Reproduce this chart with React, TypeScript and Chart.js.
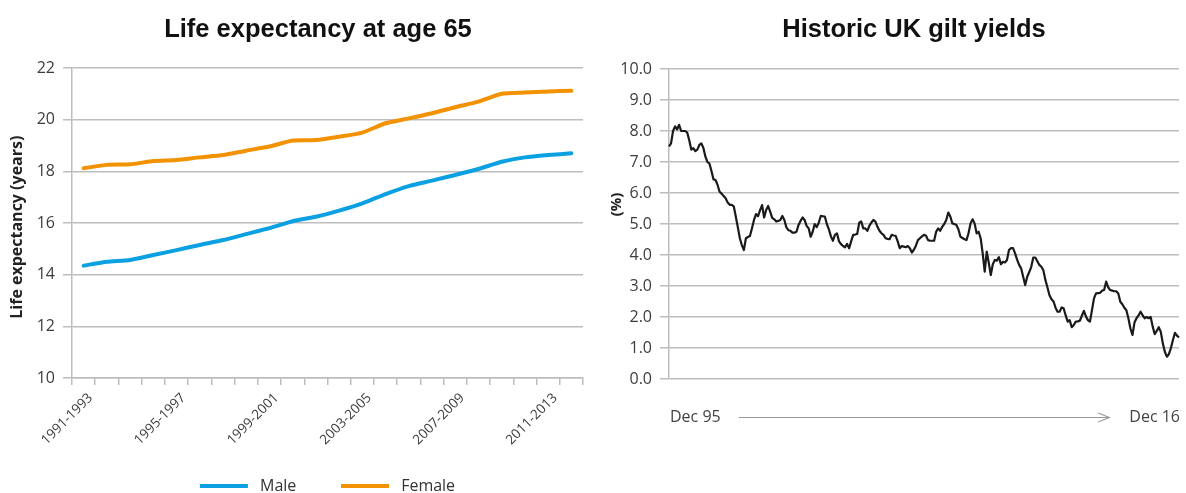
import React, { useEffect, useRef } from 'react';
import { Chart, registerables } from 'chart.js';

Chart.register(...registerables);

// ---------- Left chart data ----------
const lifePeriods = [
  '1991-1993', '1992-1994', '1993-1995', '1994-1996', '1995-1997', '1996-1998',
  '1997-1999', '1998-2000', '1999-2001', '2000-2002', '2001-2003', '2002-2004',
  '2003-2005', '2004-2006', '2005-2007', '2006-2008', '2007-2009', '2008-2010',
  '2009-2011', '2010-2012', '2011-2013', '2012-2014',
];
const maleLifeExp = [
  14.35, 14.5, 14.57, 14.76, 14.95, 15.15, 15.34, 15.57, 15.8, 16.07, 16.24,
  16.48, 16.76, 17.12, 17.43, 17.64, 17.86, 18.09, 18.37, 18.54, 18.63, 18.7,
];
const femaleLifeExp = [
  18.12, 18.25, 18.27, 18.4, 18.44, 18.54, 18.63, 18.8, 18.96, 19.19, 19.21,
  19.34, 19.5, 19.86, 20.05, 20.25, 20.48, 20.7, 21.0, 21.05, 21.09, 21.12,
];
const lifeYMin = 10;
const lifeYMax = 22;
const lifeYStep = 2;

// ---------- Right chart data (monthly, Dec 95 .. Dec 16) ----------
const giltYields = [
  7.5, 7.6, 8.0, 8.15, 8.05, 8.2, 8.0, 8.0, 8.0, 7.95, 7.7, 7.4,
  7.45, 7.35, 7.4, 7.55, 7.6, 7.45, 7.17, 7.0, 6.95, 6.7, 6.44, 6.42,
  6.26, 6.04, 5.98, 5.9, 5.83, 5.69, 5.62, 5.62, 5.57, 5.24, 4.9, 4.54,
  4.32, 4.16, 4.54, 4.58, 4.61, 4.86, 5.13, 5.32, 5.25, 5.45, 5.61, 5.21,
  5.45, 5.58, 5.4, 5.2, 5.15, 5.08, 5.1, 5.13, 5.26, 5.13, 4.89, 4.8,
  4.78, 4.72, 4.72, 4.75, 4.97, 5.1, 5.21, 5.13, 4.94, 4.86, 4.59, 4.75,
  5.0, 4.9, 5.04, 5.26, 5.25, 5.24, 5.0, 4.83, 4.6, 4.46, 4.65, 4.7,
  4.44, 4.35, 4.29, 4.25, 4.36, 4.22, 4.44, 4.65, 4.66, 4.68, 5.04, 5.08,
  4.86, 4.86, 4.78, 4.94, 5.05, 5.13, 5.08, 4.91, 4.78, 4.7, 4.65, 4.54,
  4.52, 4.51, 4.65, 4.63, 4.62, 4.44, 4.22, 4.29, 4.27, 4.25, 4.29, 4.22,
  4.08, 4.17, 4.3, 4.48, 4.54, 4.6, 4.65, 4.62, 4.48, 4.46, 4.46, 4.46,
  4.75, 4.86, 4.78, 4.91, 5.0, 5.13, 5.37, 5.24, 5.02, 5.0, 4.97, 4.83,
  4.59, 4.55, 4.51, 4.48, 4.7, 5.02, 5.15, 5.02, 4.7, 4.75, 4.54, 4.05,
  3.46, 4.11, 3.75, 3.35, 3.7, 3.84, 3.82, 3.93, 3.7, 3.78, 3.76, 3.84,
  4.16, 4.22, 4.22, 4.05, 3.85, 3.68, 3.57, 3.3, 3.03, 3.3, 3.45, 3.62,
  3.92, 3.92, 3.8, 3.68, 3.62, 3.5, 3.19, 2.95, 2.7, 2.57, 2.5, 2.3,
  2.17, 2.17, 2.31, 2.28, 2.05, 1.85, 1.9, 1.67, 1.74, 1.85, 1.86, 1.88,
  2.04, 2.2, 2.02, 1.9, 1.85, 2.22, 2.6, 2.76, 2.77, 2.78, 2.85, 2.87,
  3.14, 2.96, 2.87, 2.85, 2.83, 2.83, 2.76, 2.49, 2.41, 2.3, 2.22, 1.96,
  1.63, 1.42, 1.82, 1.96, 2.05, 2.17, 2.06, 1.96, 2.0, 1.96, 2.0, 1.69,
  1.45, 1.55, 1.67, 1.52, 1.15, 0.88, 0.72, 0.8, 1.0, 1.26, 1.49, 1.4,
  1.34,
];
const monthNames = ['Jan', 'Feb', 'Mar', 'Apr', 'May', 'Jun', 'Jul', 'Aug', 'Sep', 'Oct', 'Nov', 'Dec'];
const giltMonths = giltYields.map((_, i) => {
  const m = 11 + i;
  const yr = (1995 + Math.floor(m / 12)) % 100;
  return monthNames[m % 12] + ' ' + String(yr).padStart(2, '0');
});
const giltStartLabel = 'Dec 95';
const giltEndLabel = 'Dec 16';
const giltYMin = 0;
const giltYMax = 10;
const giltYStep = 1;

// ---------- styles ----------
const FONT = '"Open Sans", "DejaVu Sans", sans-serif';
const GRID = '#bdbdbd';
const TICK = '#3c3c3c';
const BLUE = '#0aa0e2';
const ORANGE = '#f39200';

const giltAxisNote = {
  id: 'giltAxisNote',
  afterDraw(chart: any) {
    const { ctx, chartArea } = chart;
    const y = chartArea.bottom + 38;
    ctx.save();
    ctx.font = '16px ' + FONT;
    ctx.fillStyle = '#444444';
    ctx.textBaseline = 'middle';
    ctx.textAlign = 'left';
    const xs = chartArea.left + 1;
    ctx.fillText(giltStartLabel, xs, y);
    const w1 = ctx.measureText(giltStartLabel).width;
    ctx.textAlign = 'right';
    const xe = chartArea.right + 1;
    ctx.fillText(giltEndLabel, xe, y);
    const w2 = ctx.measureText(giltEndLabel).width;
    const x0 = xs + w1 + 18;
    const x1 = xe - w2 - 20;
    ctx.strokeStyle = '#9a9a9a';
    ctx.lineWidth = 1.2;
    ctx.beginPath();
    ctx.moveTo(x0, y + 0.5);
    ctx.lineTo(x1, y + 0.5);
    ctx.moveTo(x1 - 11, y - 4);
    ctx.lineTo(x1, y + 0.5);
    ctx.lineTo(x1 - 11, y + 5);
    ctx.stroke();
    ctx.restore();
  },
};

function LifeChart() {
  const ref = useRef<HTMLCanvasElement>(null);
  useEffect(() => {
    if (!ref.current) return;
    const chart = new Chart(ref.current, {
      type: 'line',
      data: {
        labels: lifePeriods,
        datasets: [
          {
            label: 'Male',
            data: maleLifeExp,
            borderColor: BLUE,
            backgroundColor: BLUE,
            borderWidth: 4,
            pointRadius: 0,
            borderCapStyle: 'round',
            borderJoinStyle: 'round',
            tension: 0.2,
          },
          {
            label: 'Female',
            data: femaleLifeExp,
            borderColor: ORANGE,
            backgroundColor: ORANGE,
            borderWidth: 4,
            pointRadius: 0,
            borderCapStyle: 'round',
            borderJoinStyle: 'round',
            tension: 0.2,
          },
        ],
      },
      options: {
        animation: false,
        responsive: false,
        layout: { padding: { left: 0, right: 12, top: 68, bottom: 0 } },
        plugins: {
          title: { display: false },
          tooltip: { enabled: false },
          legend: {
            position: 'bottom',
            fullSize: false,
            labels: {
              boxWidth: 48,
              boxHeight: 4,
              padding: 28,
              color: '#333333',
              font: { family: FONT, size: 16 },
              generateLabels: (c: any) =>
                (Chart.defaults.plugins.legend.labels as any)
                  .generateLabels(c)
                  .map((l: any, i: number) => ({
                    ...l,
                    lineWidth: 0,
                    text: ' ' + l.text + (i === 0 ? '    ' : ''),
                  })),
            },
          },
        },
        scales: {
          x: {
            offset: true,
            grid: {
              offset: true,
              drawOnChartArea: false,
              drawTicks: true,
              tickLength: 7,
              color: GRID,
              lineWidth: 1.5,
            },
            border: { color: GRID, width: 1.5 },
            ticks: {
              autoSkip: false,
              minRotation: 45,
              maxRotation: 45,
              padding: 5,
              labelOffset: 7,
              color: TICK,
              font: { family: FONT, size: 13.5 },
              callback: (_v: any, i: number) => (i % 4 === 0 ? lifePeriods[i] : ''),
            },
            afterFit: (s: any) => {
              s.height = 72;
            },
          },
          y: {
            min: lifeYMin,
            max: lifeYMax,
            ticks: {
              stepSize: lifeYStep,
              padding: 8,
              color: TICK,
              font: { family: FONT, size: 16 },
            },
            grid: { color: GRID, lineWidth: 1.5, tickLength: 9 },
            border: { color: GRID, width: 1.5 },
            title: {
              display: true,
              text: 'Life expectancy (years)  ',
              color: '#222222',
              font: { family: FONT, size: 16, weight: 'bold' },
              padding: { top: 8, bottom: 0 },
            },
            afterFit: (s: any) => {
              s.width = 72;
            },
          },
        },
      } as any,
    });
    return () => chart.destroy();
  }, []);
  return (
    <canvas
      ref={ref}
      width={595}
      height={504}
      style={{ position: 'absolute', left: 0, top: 0, display: 'block' }}
    />
  );
}

function GiltChart() {
  const ref = useRef<HTMLCanvasElement>(null);
  useEffect(() => {
    if (!ref.current) return;
    const chart = new Chart(ref.current, {
      type: 'line',
      data: {
        labels: giltMonths,
        datasets: [
          {
            label: 'UK gilt yield',
            data: giltYields,
            borderColor: '#1a1a1a',
            backgroundColor: '#1a1a1a',
            borderWidth: 2.2,
            pointRadius: 0,
            tension: 0,
            borderJoinStyle: 'round',
          },
        ],
      },
      options: {
        animation: false,
        responsive: false,
        layout: { padding: { left: 0, right: 7, top: 69, bottom: 114 } },
        plugins: {
          title: { display: false },
          legend: { display: false },
          tooltip: { enabled: false },
        },
        scales: {
          x: { display: false },
          y: {
            min: giltYMin,
            max: giltYMax,
            ticks: {
              stepSize: giltYStep,
              padding: 8,
              color: TICK,
              font: { family: FONT, size: 16 },
              callback: (v: any) => Number(v).toFixed(1),
            },
            grid: { color: GRID, lineWidth: 1.5, tickLength: 9 },
            border: { color: GRID, width: 1.5 },
            title: {
              display: true,
              text: '          (%)',
              color: '#222222',
              font: { family: FONT, size: 15, weight: 'bold' },
              padding: { top: 13, bottom: 0 },
            },
            afterFit: (s: any) => {
              s.width = 74;
            },
          },
        },
      } as any,
      plugins: [giltAxisNote],
    });
    return () => chart.destroy();
  }, []);
  return (
    <canvas
      ref={ref}
      width={591}
      height={493}
      style={{ position: 'absolute', left: 595, top: 0, display: 'block' }}
    />
  );
}

const titleStyle: React.CSSProperties = {
  position: 'absolute',
  top: 14,
  height: 28,
  lineHeight: '28px',
  textAlign: 'center',
  fontFamily: '"Liberation Sans", Arial, sans-serif',
  fontWeight: 'bold',
  fontSize: 25.5,
  color: '#111111',
  whiteSpace: 'nowrap',
};

export default function App() {
  return (
    <div
      style={{
        position: 'fixed',
        left: 0,
        top: 0,
        width: 1186,
        height: 493,
        overflow: 'hidden',
        background: '#ffffff',
      }}
    >
      <LifeChart />
      <GiltChart />
      <div style={{ ...titleStyle, left: 18, width: 600 }}>Life expectancy at age 65</div>
      <div style={{ ...titleStyle, left: 614, width: 600 }}>Historic UK gilt yields</div>
    </div>
  );
}
